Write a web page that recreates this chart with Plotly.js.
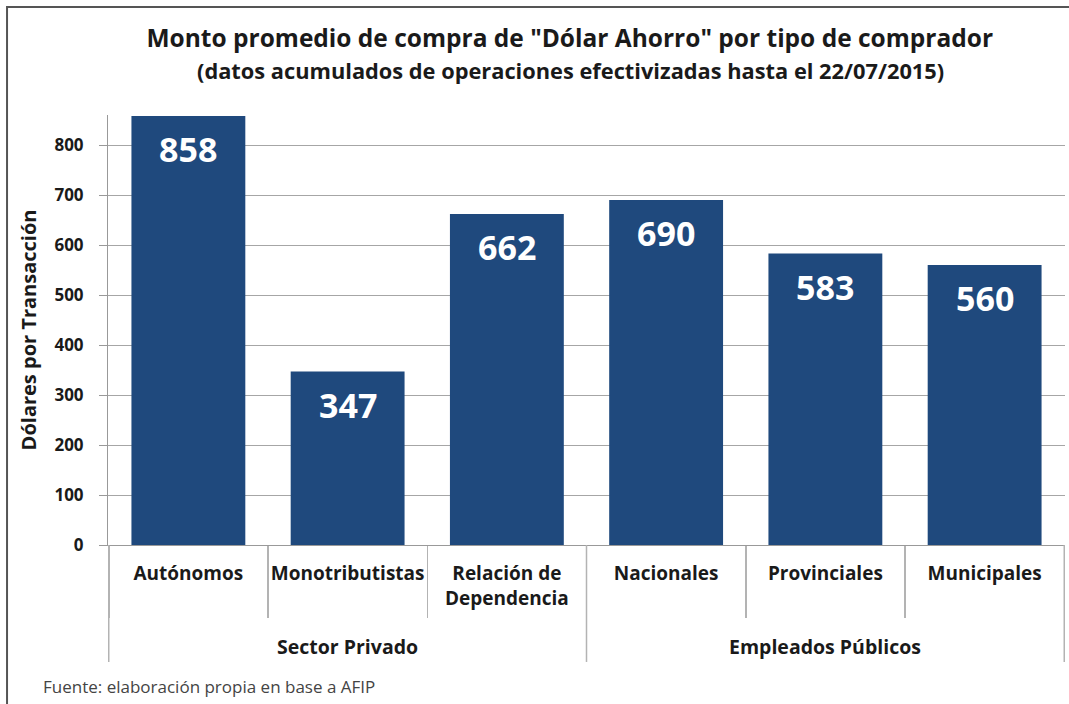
<!DOCTYPE html>
<html><head><meta charset="utf-8">
<script src="https://cdn.plot.ly/plotly-3.0.1.min.js"></script>
<style>html,body{margin:0;padding:0;background:#fff}</style>
</head><body>
<div id="chart" style="width:1069px;height:704px"></div>
<script>
const groups = ["Sector Privado","Sector Privado","Sector Privado","Empleados Públicos","Empleados Públicos","Empleados Públicos"];
const categories = ["Autónomos","Monotributistas","Relación de<br>Dependencia","Nacionales","Provinciales","Municipales"];
const values = [858, 347, 662, 690, 583, 560];
const yTicks = [0,100,200,300,400,500,600,700,800];

const font = '"Open Sans", "Noto Sans", sans-serif';
const dark = '#1a1a1a';
const sepColor = '#b3b3b3';

const trace = {
  type: 'bar',
  x: categories,
  y: values,
  marker: {color: '#1F497D'},
  hoverinfo: 'none'
};

// value labels inside bars
const annotations = values.map((v, i) => ({
  x: categories[i], y: v, xref: 'x', yref: 'y',
  text: '<b>' + v + '</b>', showarrow: false,
  yanchor: 'top', yshift: -8,
  font: {family: font, size: 34, color: '#ffffff'}
}));

// group labels & dividers, derived from groups array
const groupNames = [...new Set(groups)];
const shapes = [];
groupNames.forEach(g => {
  const idx = groups.map((v, i) => v === g ? i : -1).filter(i => i >= 0);
  const center = (idx[0] + idx[idx.length - 1]) / 2;
  annotations.push({
    x: center, y: -0.237, xref: 'x', yref: 'paper', yanchor: 'middle',
    text: '<b>' + g + '</b>', showarrow: false,
    font: {family: font, size: 19.5, color: dark}
  });
});
const boundaries = [-0.5];
for (let i = 1; i < groups.length; i++) if (groups[i] !== groups[i - 1]) boundaries.push(i - 0.5);
boundaries.push(groups.length - 0.5);
boundaries.forEach(b => shapes.push({
  type: 'line', xref: 'x', yref: 'paper', x0: b, x1: b, y0: 0, y1: -0.272,
  line: {color: sepColor, width: 1.5}
}));

annotations.push({
  text: '<b>(datos acumulados de operaciones efectivizadas hasta el 22/07/2015)</b>',
  xref: 'paper', yref: 'paper', x: 0.4828, xanchor: 'center', y: 1.103, yanchor: 'middle',
  showarrow: false, font: {family: font, size: 21.8, color: dark}
});
annotations.push({
  text: 'Fuente: elaboración propia en base a AFIP',
  xref: 'paper', yref: 'paper', x: -0.07, y: -0.330, xanchor: 'left', yanchor: 'middle',
  showarrow: false, font: {family: font, size: 17, color: '#444444'}
});
shapes.push({type: 'rect', xref: 'paper', yref: 'paper', x0: -0.1055, x1: 1.02, y0: -0.4, y1: 1.251,
  line: {color: '#555555', width: 2}});

const layout = {
  width: 1069, height: 704,
  margin: {l: 108, r: 4, t: 115, b: 159},
  paper_bgcolor: '#ffffff', plot_bgcolor: '#ffffff',
  bargap: 0.285,
  showlegend: false,
  title: {text: '<b>Monto promedio de compra de "Dólar Ahorro" por tipo de comprador</b>',
    font: {family: font, size: 24.5, color: dark}, x: 0.533, xanchor: 'center', y: 0.946, yanchor: 'middle'},
  xaxis: {
    type: 'category',
    showline: true, linecolor: '#999999', linewidth: 1,
    tickson: 'boundaries', ticks: 'outside', ticklen: 72, tickcolor: sepColor, tickwidth: 1.5,
    ticklabelstandoff: 11,
    tickangle: 0,
    tickfont: {family: font, size: 19, color: dark, weight: 700},
    showgrid: false
  },
  yaxis: {
    range: [0, 860],
    tickvals: yTicks,
    ticks: 'outside', ticklen: 8, tickcolor: '#999999',
    showline: true, linecolor: '#999999', linewidth: 1,
    showgrid: true, gridcolor: '#a6a6a6', gridwidth: 1,
    zeroline: false,
    ticklabelstandoff: 12,
    tickfont: {family: font, size: 17, color: dark, weight: 700},
    title: {text: '<b>Dólares por Transacción</b>', font: {family: font, size: 20, color: dark}, standoff: 12}
  },
  annotations: annotations,
  shapes: shapes
};
Plotly.newPlot('chart', [trace], layout, {displayModeBar: false, staticPlot: true});
</script>
</body></html>
